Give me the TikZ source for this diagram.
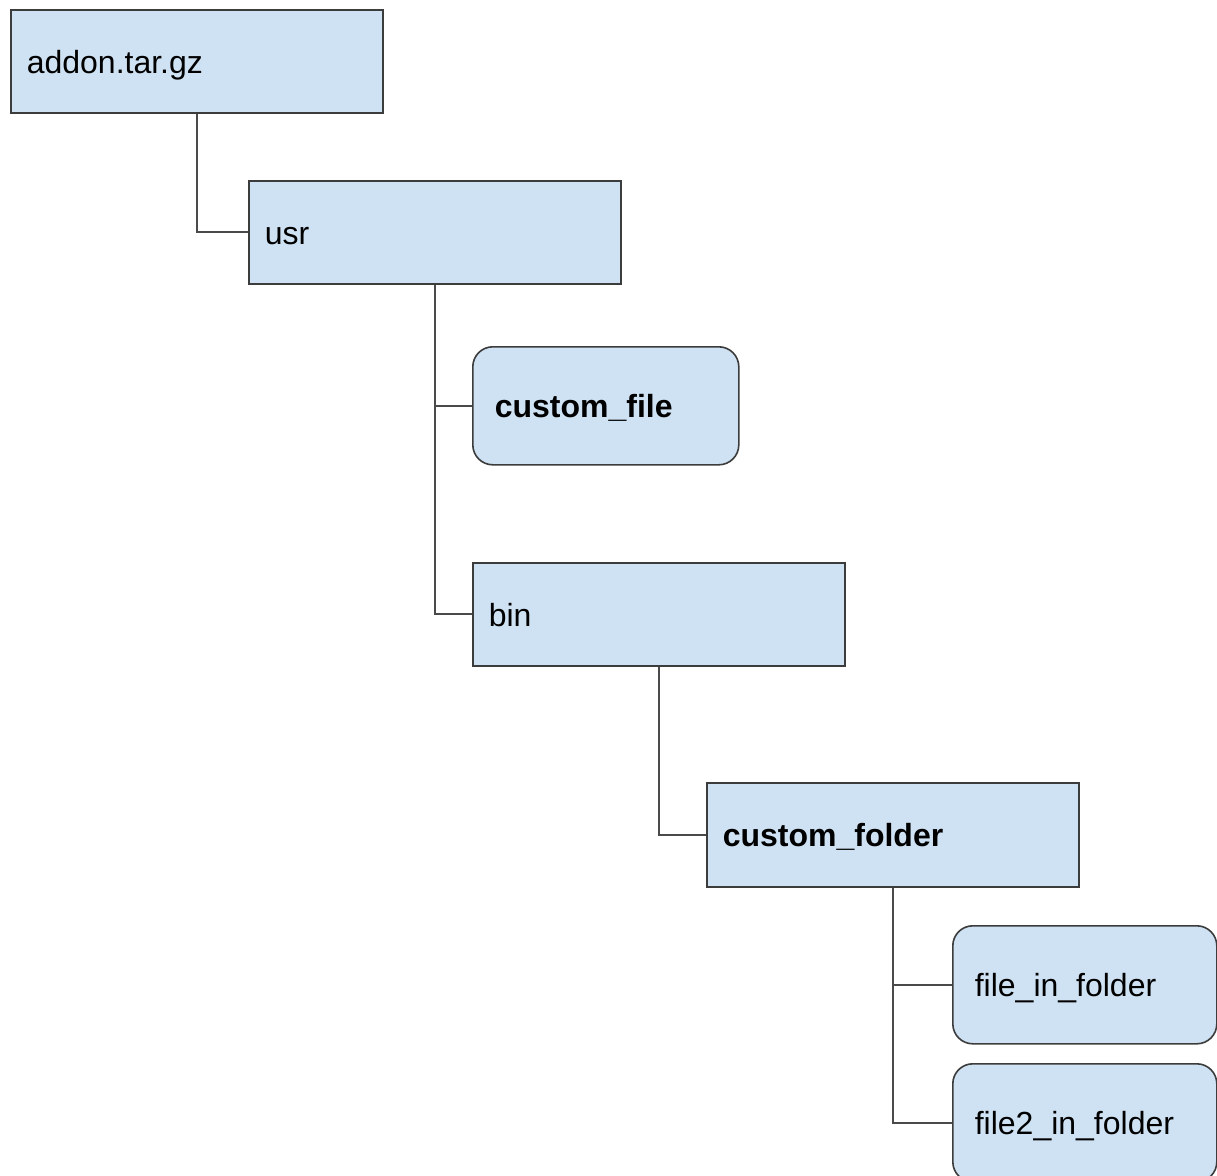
\documentclass[tikz,border=0pt]{standalone}
\usepackage{fontspec}
\setmainfont{Liberation Sans}
\definecolor{boxfill}{HTML}{CFE2F3}
\definecolor{boxline}{HTML}{3C3C3C}
\definecolor{connline}{HTML}{4A4A4A}
\begin{document}
\begin{tikzpicture}[x=1pt,y=-1pt,
  box/.style={draw=boxline, fill=boxfill, line width=1.6pt, anchor=north west,
    inner xsep=16pt, inner ysep=0pt, align=left,
    font=\fontsize{32}{38}\selectfont, text height=24pt, text depth=0pt},
  filebox/.style={box, rounded corners=20pt, inner xsep=22pt},
  conn/.style={draw=connline, line width=1.8pt}]
\clip (0,0) rectangle (1217,1175);
\fill[white] (0,0) rectangle (1217,1175);
\node[box, text width=340pt, minimum height=103pt] (addon) at (10,9) {addon.tar.gz};
\node[box, text width=340pt, minimum height=103pt] (usr) at (248,180) {usr};
\node[filebox, text width=222pt, minimum height=118pt] (cfile) at (472,346) {\bfseries custom\_file};
\node[box, text width=340pt, minimum height=103pt] (bin) at (472,562) {bin};
\node[box, text width=340pt, minimum height=104pt] (cfolder) at (706,782) {\bfseries custom\_folder};
\node[filebox, text width=220pt, minimum height=118pt] (f1) at (952,925) {file\_in\_folder};
\node[filebox, text width=220pt, minimum height=118pt] (f2) at (952,1063) {file2\_in\_folder};
\draw[conn] (addon.south) |- (usr.west);
\draw[conn] (usr.south) |- (cfile.west);
\draw[conn] (usr.south) |- (bin.west);
\draw[conn] (bin.south) |- (cfolder.west);
\draw[conn] (cfolder.south) |- (f1.west);
\draw[conn] (cfolder.south) |- (f2.west);
\end{tikzpicture}
\end{document}
